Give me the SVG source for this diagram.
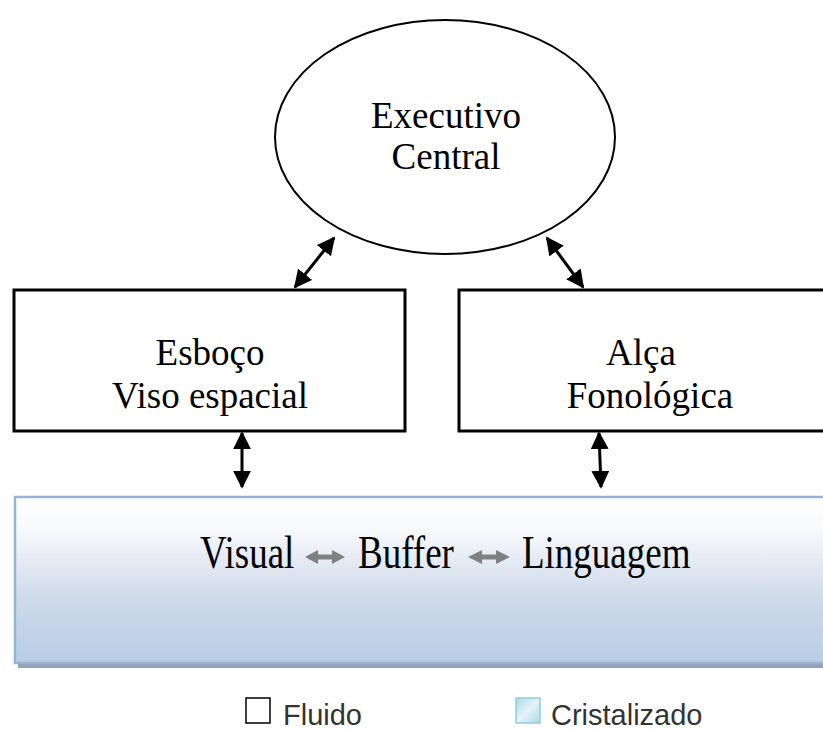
<svg xmlns="http://www.w3.org/2000/svg" width="823" height="730" viewBox="0 0 823 730">
<style>
.t{font-family:"Liberation Serif","Times New Roman",serif;font-size:37px;fill:#000;text-anchor:middle}
.b{font-family:"Liberation Serif","Times New Roman",serif;font-size:37px;fill:#000}
.box{fill:#fff;stroke:#000;stroke-width:3}
.c{stroke:#000;stroke-width:3;fill:none;marker-start:url(#ah);marker-end:url(#ah)}
.lg{font-family:"Liberation Sans",Arial,sans-serif;font-size:29px;fill:#333}
.ga{fill:#808080}
</style>
<defs>
<marker id="ah" viewBox="0 0 10 10" refX="9" refY="5" markerWidth="6" markerHeight="6" markerUnits="strokeWidth" orient="auto-start-reverse">
<path d="M0,0 L10,5 L0,10 z" fill="#000"/>
</marker>
<linearGradient id="g" x1="0" y1="0" x2="0" y2="1">
<stop offset="0" stop-color="#ffffff"/>
<stop offset="0.2" stop-color="#f7f9fc"/>
<stop offset="0.6" stop-color="#cfdaea"/>
<stop offset="1" stop-color="#b9cce4"/>
</linearGradient>
<linearGradient id="gc" x1="0" y1="0" x2="1" y2="1">
<stop offset="0" stop-color="#a9dbe6"/>
<stop offset="0.5" stop-color="#e4f3f7"/>
<stop offset="1" stop-color="#a9dbe6"/>
</linearGradient>
</defs>
<g id="buffer">
<rect x="18" y="500" width="820" height="168" fill="#95a3b3"/>
<rect x="15" y="497" width="820" height="166" fill="url(#g)" stroke="#95b3d7" stroke-width="2.5"/>
<g transform="translate(0,568) scale(1,1.25) translate(0,-568)">
<text class="b" x="200" y="568">Visual</text>
<text class="b" x="358" y="568">Buffer</text>
<text class="b" x="522" y="568">Linguagem</text>
</g>
<path class="ga" d="M305,557 L318,550 L318,554.5 L332,554.5 L332,550 L345,557 L332,564 L332,559.5 L318,559.5 L318,564 z"/>
<path class="ga" d="M468,557 L482,550 L482,554.5 L496,554.5 L496,550 L510,557 L496,564 L496,559.5 L482,559.5 L482,564 z"/>
</g>
<g id="executivo">
<ellipse cx="445" cy="137" rx="170" ry="117" fill="#fff" stroke="#000" stroke-width="2"/>
<text class="t" x="446" y="128">Executivo</text>
<text class="t" x="446" y="169">Central</text>
</g>
<g id="esboco">
<rect class="box" x="14" y="290" width="391" height="141"/>
<text class="t" x="210" y="365">Esboço</text>
<text class="t" x="210" y="408">Viso espacial</text>
</g>
<g id="alca">
<rect class="box" x="459" y="290" width="380" height="141"/>
<text class="t" x="641" y="365">Alça</text>
<text class="t" x="650" y="408">Fonológica</text>
</g>
<g id="connectors">
<line class="c" x1="295" y1="287" x2="334" y2="238"/>
<line class="c" x1="583" y1="287" x2="547" y2="238"/>
<line class="c" x1="242" y1="433" x2="242" y2="487"/>
<line class="c" x1="599" y1="433" x2="601" y2="487"/>
</g>
<g id="legend">
<rect x="246" y="698" width="24" height="25" fill="#fff" stroke="#000" stroke-width="1.5"/>
<text class="lg" x="283" y="725">Fluido</text>
<rect x="516" y="698" width="24" height="25" fill="url(#gc)" stroke="#8ccfdc" stroke-width="1.5"/>
<text class="lg" x="551" y="725">Cristalizado</text>
</g>
</svg>
